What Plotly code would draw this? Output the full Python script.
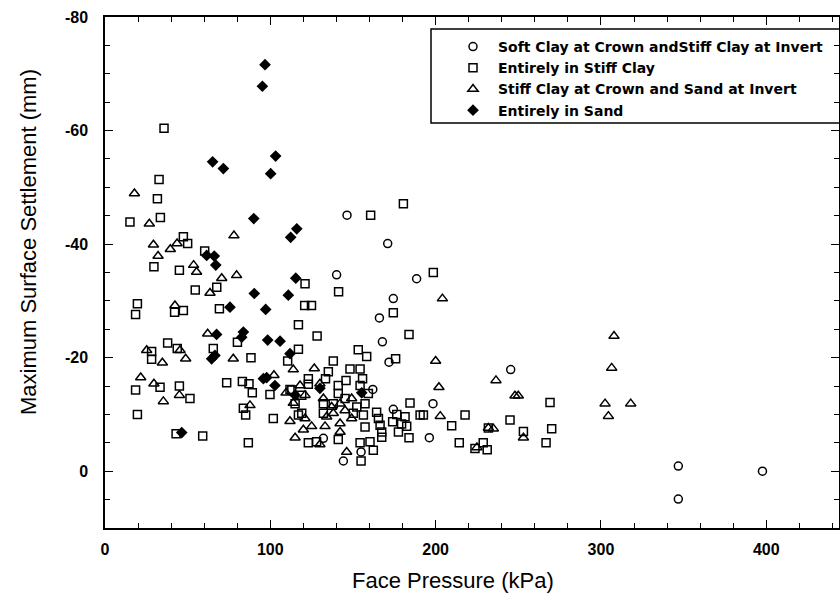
import plotly.graph_objects as go

# ---------------- data ----------------
series_names = [
    "Soft Clay at Crown andStiff Clay at Invert",
    "Entirely in Stiff Clay",
    "Stiff Clay at Crown and Sand at Invert",
    "Entirely in Sand",
]

soft_x = [146.4, 171.0, 140.1, 188.5, 174.4, 166.0, 167.8, 171.8, 198.4, 196.2,
          162.0, 132.1, 154.9, 144.2, 174.4, 245.4, 346.8, 346.8, 397.7]
soft_y = [-45.1, -40.1, -34.6, -33.9, -30.4, -27.0, -22.8, -19.2, -11.9, -5.9,
          -14.4, -5.8, -3.4, -1.8, -10.9, -17.9, -0.9, 4.9, 0.0]

stiff_x = [35.7, 32.7, 31.7, 33.5, 15.1, 47.4, 50.0, 60.3, 29.6, 45.0,
           54.6, 67.6, 121.0, 141.3, 160.7, 180.5, 198.6,
           19.6, 18.5, 42.1, 47.4, 69.2, 120.8, 124.9, 174.4, 117.0,
           128.3, 183.9, 80.1, 117.0, 110.5, 153.2, 158.3, 175.8, 138.1,
           135.1, 123.0, 184.5, 217.8, 209.7, 214.3, 183.9, 190.6, 192.6,
           28.2, 28.2, 37.9, 43.7, 18.5, 33.3, 45.0, 51.4, 19.6, 43.0, 59.1,
           65.5, 88.3, 73.6, 83.1, 87.1, 89.1, 99.8, 111.9, 83.7, 85.1,
           101.8, 117.0, 86.7,
           133.4, 148.2, 154.3, 155.8, 123.0, 145.8, 141.1, 141.1, 113.0,
           119.0, 154.3, 159.3, 145.2, 132.1, 138.1, 157.3, 152.3, 119.0,
           115.0, 132.1, 150.2, 156.3, 164.3, 165.4, 166.4, 157.3, 167.4,
           141.1, 123.0, 128.0, 154.3, 160.3, 162.3, 154.9, 167.4,
           176.5, 181.5, 174.0, 179.4, 182.5, 177.5,
           269.2, 245.0, 231.9, 253.1, 270.2, 266.8, 223.8, 228.8, 231.2]
stiff_y = [-60.4, -51.4, -48.0, -44.7, -43.9, -41.3, -40.1, -38.8, -36.0, -35.4,
           -31.9, -32.4, -33.0, -31.6, -45.1, -47.1, -35.0,
           -29.5, -27.6, -28.0, -28.3, -28.6, -29.2, -29.2, -27.9, -25.8,
           -23.8, -24.1, -22.7, -21.5, -19.4, -21.4, -20.2, -19.8, -19.4,
           -17.5, -16.3, -12.0, -9.9, -8.0, -5.0, -5.9, -9.9, -9.9,
           -21.1, -19.7, -22.6, -21.6, -14.3, -14.8, -15.0, -12.8, -10.0, -6.6, -6.2,
           -21.6, -20.0, -15.6, -15.8, -15.4, -13.8, -13.5, -14.4, -11.1, -9.9,
           -9.3, -9.9, -5.0,
           -16.3, -18.0, -18.0, -16.3, -15.3, -16.0, -15.1, -13.7, -14.3,
           -13.4, -15.1, -13.7, -12.8, -11.9, -11.9, -11.9, -11.3, -10.2,
           -11.9, -10.2, -10.2, -9.9, -10.4, -9.3, -8.1, -7.8, -6.9,
           -5.6, -5.0, -5.2, -5.0, -5.2, -3.7, -1.8, -6.0,
           -10.0, -9.6, -8.7, -8.3, -7.9, -6.9,
           -12.1, -9.0, -7.6, -7.0, -7.5, -5.0, -4.0, -5.0, -3.8]

mixed_x = [17.8, 26.8, 29.3, 32.1, 39.5, 43.6, 78.0, 53.6, 55.4, 70.6, 79.6, 63.5, 204.1,
           42.3, 62.1, 113.9, 126.6, 200.0, 202.0, 202.8,
           25.2, 34.7, 45.4, 48.8, 21.6, 29.6, 35.3, 45.0,
           77.6, 102.2, 109.5, 87.7, 111.9, 115.0, 113.9,
           130.0, 118.0, 121.0, 149.2, 142.2, 132.1, 137.1, 145.2, 134.1, 138.1,
           149.2, 125.0, 121.0, 133.1, 142.2, 120.0, 142.2, 130.0, 146.2,
           307.9, 306.5, 302.5, 304.5, 318.0, 236.5, 248.0, 250.0, 231.9, 234.9,
           253.1, 225.0]
mixed_y = [-48.9, -43.6, -39.9, -37.9, -39.1, -40.1, -41.5, -36.3, -35.1, -34.0, -34.5, -31.4, -30.4,
           -29.2, -24.2, -17.9, -18.1, -19.4, -14.8, -9.7,
           -21.3, -19.1, -21.3, -19.8, -16.5, -15.4, -12.3, -13.4,
           -19.8, -16.9, -13.8, -11.6, -8.8, -5.9, -12.0,
           -15.4, -15.1, -13.4, -12.8, -11.9, -12.8, -11.3, -10.7, -9.6, -10.2,
           -9.3, -7.9, -9.3, -7.9, -8.4, -7.3, -6.9, -4.7, -3.4,
           -23.8, -18.2, -11.9, -9.7, -11.9, -16.0, -13.3, -13.3, -7.6, -7.5,
           -5.9, -4.2]

sand_x = [96.8, 95.2, 103.2, 100.2, 65.1, 71.6, 90.0, 116.0, 112.3, 61.5, 66.1, 67.0,
          115.4, 90.3, 110.9, 75.6, 97.2, 67.5, 83.7, 82.7, 98.4, 105.9, 111.9,
          64.5, 66.5, 95.8, 97.8, 102.8, 115.0, 46.4, 130.0, 155.3]
sand_y = [-71.6, -67.8, -55.5, -52.4, -54.5, -53.3, -44.5, -42.7, -41.2, -38.0, -37.9, -36.3,
          -34.0, -31.3, -31.0, -28.9, -28.5, -24.1, -24.5, -23.6, -23.1, -22.9, -20.7,
          -19.8, -20.4, -16.3, -16.5, -15.1, -13.4, -6.8, -14.6, -13.8]

x_tickvals = [0, 100, 200, 300, 400]
x_ticktext = ["0", "100", "200", "300", "400"]
y_tickvals = [-80, -60, -40, -20, 0]
y_ticktext = ["-80", "-60", "-40", "-20", "0"]

x_title = "Face Pressure (kPa)"
y_title = "Maximum Surface Settlement (mm)"

# ---------------- figure ----------------
fig = go.Figure()
styles = [
    dict(symbol="circle-open", size=8, line=dict(width=1.5, color="black"), color="black"),
    dict(symbol="square-open", size=8, line=dict(width=1.5, color="black"), color="black"),
    dict(symbol="triangle-up-open", size=9, line=dict(width=1.5, color="black"), color="black"),
    dict(symbol="diamond", size=9, line=dict(width=0), color="black"),
]
for name, xs, ys, st in zip(series_names,
                            [soft_x, stiff_x, mixed_x, sand_x],
                            [soft_y, stiff_y, mixed_y, sand_y],
                            styles):
    fig.add_trace(go.Scatter(x=xs, y=ys, mode="markers", name=name, marker=st))

tickfont = dict(family="Liberation Sans, Arial, sans-serif", size=16, color="black", weight="bold")

fig.update_xaxes(
    range=[0, 444], showgrid=False, zeroline=False,
    showline=True, linecolor="black", linewidth=1.5, mirror="allticks",
    ticks="inside", ticklen=8, tickwidth=1.2, tickcolor="black",
    tickvals=x_tickvals, ticktext=x_ticktext, tickfont=tickfont,
    ticklabelstandoff=6,
    minor=dict(ticks="inside", dtick=20, tick0=0, ticklen=5, tickwidth=1, tickcolor="black", showgrid=False),
)
fig.update_yaxes(
    range=[10, -80], showgrid=False, zeroline=False,
    showline=True, linecolor="black", linewidth=1.5, mirror="allticks",
    ticks="inside", ticklen=8, tickwidth=1.2, tickcolor="black",
    tickvals=y_tickvals, ticktext=y_ticktext, tickfont=tickfont,
    ticklabelstandoff=12,
    minor=dict(ticks="inside", dtick=5, tick0=0, ticklen=5, tickwidth=1, tickcolor="black", showgrid=False),
)

titlefont = dict(family="Liberation Sans, Arial, sans-serif", size=22, color="black")
fig.add_annotation(text=x_title, xref="paper", yref="paper",
                   x=(453 - 105) / 734, y=(528 - 580) / 511, xanchor="center", yanchor="middle",
                   showarrow=False, font=titlefont)
fig.add_annotation(text=y_title, xref="paper", yref="paper", textangle=-90,
                   x=(28 - 105) / 734, y=(528 - 242) / 511, xanchor="center", yanchor="middle",
                   showarrow=False, font=titlefont)

# legend frame
fig.add_shape(type="rect", xref="paper", yref="paper",
              x0=(431 - 105) / 734, x1=1.2, y0=(528 - 123) / 511, y1=(528 - 29) / 511,
              line=dict(color="black", width=1.5), fillcolor="white", layer="below")

fig.update_layout(
    width=840, height=598,
    margin=dict(l=105, r=1, t=17, b=70, autoexpand=False),
    plot_bgcolor="white", paper_bgcolor="white",
    showlegend=True,
    legend=dict(x=(431 - 105) / 734, y=(528 - 31) / 511, xanchor="left", yanchor="top",
                bgcolor="rgba(0,0,0,0)", borderwidth=0, indentation=17,
                font=dict(family="DejaVu Sans, sans-serif", size=14, color="black", weight="bold"),
                itemwidth=40, tracegroupgap=0),
)

fig.write_html("out.html")
